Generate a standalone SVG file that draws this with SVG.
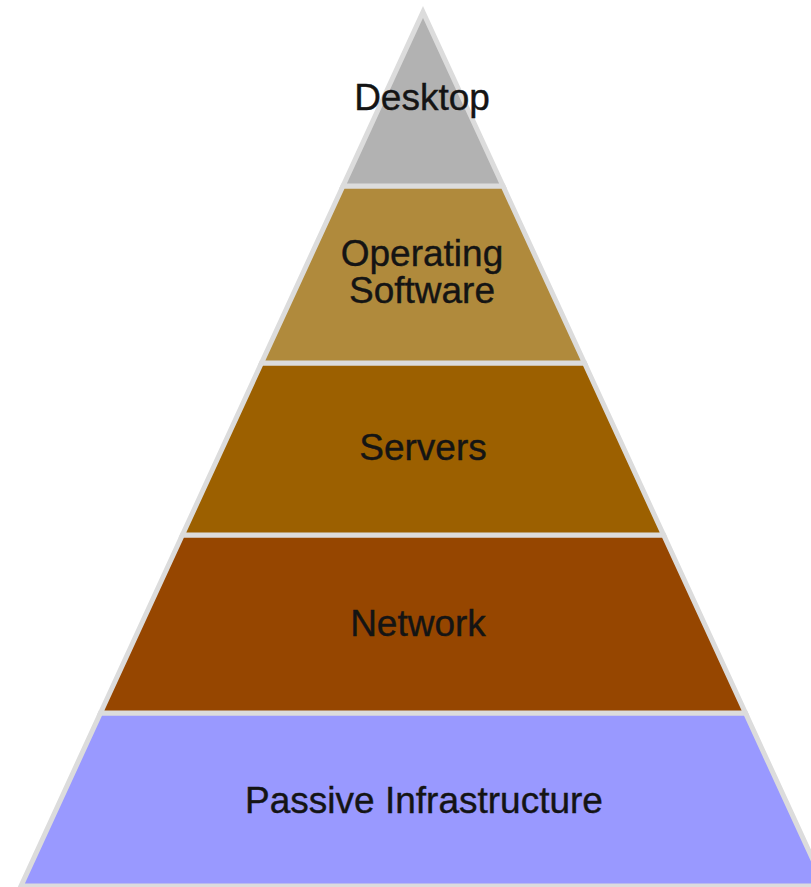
<svg xmlns="http://www.w3.org/2000/svg" width="811" height="887" viewBox="0 0 811 887">
  <style>
    .layer { stroke: #dcdcdc; stroke-width: 5; stroke-linejoin: miter; }
    .lbl { font-family: "Liberation Sans", Arial, sans-serif; font-size: 37px; fill: #141414; stroke: #141414; stroke-width: 0.4; text-anchor: middle; }
  </style>
  <rect x="0" y="0" width="811" height="887" fill="#ffffff"/>
  <g id="passive">
    <polygon class="layer" points="100.5,713 745.5,713 825,886 21,886" fill="#9999ff"/>
    <text class="lbl" x="424" y="813">Passive Infrastructure</text>
  </g>
  <g id="network">
    <polygon class="layer" points="182.4,535 663.6,535 745.5,713 100.5,713" fill="#964600"/>
    <text class="lbl" x="418" y="636">Network</text>
  </g>
  <g id="servers">
    <polygon class="layer" points="261.5,363 584.5,363 663.6,535 182.4,535" fill="#9c6000"/>
    <text class="lbl" x="423" y="460">Servers</text>
  </g>
  <g id="operating-software">
    <polygon class="layer" points="343,186 503,186 584.5,363 261.5,363" fill="#b08a3c"/>
    <text class="lbl" x="422" y="266">Operating</text>
    <text class="lbl" x="422" y="303">Software</text>
  </g>
  <g id="desktop">
    <polygon class="layer" points="423,12 503,186 343,186" fill="#b2b2b2"/>
    <text class="lbl" x="422" y="110">Desktop</text>
  </g>
  <g id="connectors"></g>
</svg>
